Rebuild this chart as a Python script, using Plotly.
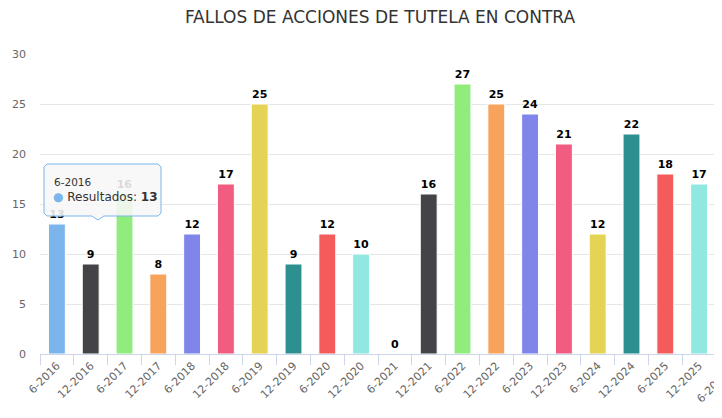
import plotly.graph_objects as go

categories = ["6-2016", "12-2016", "6-2017", "12-2017", "6-2018", "12-2018",
              "6-2019", "12-2019", "6-2020", "12-2020", "6-2021", "12-2021",
              "6-2022", "12-2022", "6-2023", "12-2023", "6-2024", "12-2024",
              "6-2025", "12-2025", "6-2026"]
values = [13, 9, 16, 8, 12, 17, 25, 9, 12, 10, 0, 16, 27, 25, 24, 21, 12, 22, 18, 17, None]
series_name = "Resultados"
title_text = "FALLOS DE ACCIONES DE TUTELA EN CONTRA"
palette = ["#7cb5ec", "#434348", "#90ed7d", "#f7a35c", "#8085e9",
           "#f15c80", "#e4d354", "#2b908f", "#f45b5b", "#91e8e1"]
tooltip_index = 0

OFF = 8  # page margin around the figure
W, H = 722 - OFF, 418 - OFF
ML, MR, MT, MB = 32, 0, 46, 64
PW, PH = W - ML - MR, H - MT - MB
step = 33.8
x_range = [-0.5, -0.5 + PW / step]
y_range = [0, 30]

colors = [palette[i % len(palette)] for i in range(len(values))]
texts = ["" if v is None else str(v) for v in values]

fig = go.Figure(go.Bar(
    x=categories, y=values, width=0.5,
    marker=dict(color=colors, line=dict(color="white", width=1)),
    text=texts, textposition="outside", cliponaxis=False,
    textfont=dict(family="DejaVu Sans", size=11, color="#000000", weight="bold"),
    name=series_name, hoverinfo="skip",
))

def px_x(px):
    return (px - OFF - ML) / PW

def px_y(py):
    return (H - MB - (py - OFF)) / PH

# tooltip anchored on the hovered point (page pixel coordinates)
cx_px = OFF + ML + (tooltip_index - x_range[0]) * step
top_px = OFF + (H - MB) - values[tooltip_index] * PH / (y_range[1] - y_range[0])
tip_x, tip_y = cx_px + 41, top_px - 4
bx0, bx1, by0, by1 = 44, 161, 164, 216
r = 3
pts = [
    (bx0 + r, by0), (bx1 - r, by0), (bx1, by0 + r), (bx1, by1 - r), (bx1 - r, by1),
    (tip_x + 6, by1), (tip_x, tip_y), (tip_x - 6, by1),
    (bx0 + r, by1), (bx0, by1 - r), (bx0, by0 + r),
]
path = "M " + " L ".join(f"{px_x(a):.5f},{px_y(b):.5f}" for a, b in pts) + " Z"

fig.add_shape(type="path", path=path, xref="paper", yref="paper", layer="above",
              fillcolor="rgba(247,247,247,0.88)",
              line=dict(color=colors[tooltip_index], width=1))

fig.add_annotation(xref="paper", yref="paper", x=px_x(52), y=px_y(182),
                   xanchor="left", yanchor="middle", showarrow=False,
                   text=categories[tooltip_index],
                   font=dict(family="DejaVu Sans", size=10.5, color="#333333"))
fig.add_annotation(xref="paper", yref="paper", x=px_x(51), y=px_y(197),
                   xanchor="left", yanchor="middle", showarrow=False,
                   text=f"<span style='color:{colors[tooltip_index]}'>●</span> {series_name}: <b>{values[tooltip_index]}</b>",
                   font=dict(family="DejaVu Sans", size=12, color="#333333"))

# partially visible last category label
fig.add_annotation(xref="paper", yref="paper", x=px_x(712), y=px_y(387),
                   xanchor="center", yanchor="middle", showarrow=False, textangle=-45,
                   text=categories[-1],
                   font=dict(family="DejaVu Sans", size=11, color="#666666"))

fig.update_layout(
    width=W, height=H,
    margin=dict(l=ML, r=MR, t=MT, b=MB, pad=0),
    paper_bgcolor="white", plot_bgcolor="white",
    showlegend=False, bargap=0.5,
    title=dict(text=title_text, x=(380 - OFF) / W, xref="container", xanchor="center",
               y=1 - (17 - OFF) / H, yref="container", yanchor="middle",
               font=dict(family="DejaVu Sans", size=17, color="#333333")),
    font=dict(family="DejaVu Sans"),
    xaxis=dict(type="category", range=x_range, tickson="boundaries",
               ticks="outside", ticklen=10, tickcolor="#ccd6eb", tickwidth=1,
               showline=True, linecolor="#ccd6eb", linewidth=1,
               showgrid=False, tickangle=-45,
               tickfont=dict(family="DejaVu Sans", size=11, color="#666666")),
    yaxis=dict(range=y_range, tickmode="array", tickvals=[0, 5, 10, 15, 20, 25, 30],
               showgrid=True, gridcolor="#e6e6e6", gridwidth=1, zeroline=False,
               ticks="", ticklabelstandoff=13,
               tickfont=dict(family="DejaVu Sans", size=11, color="#666666")),
)

fig.write_html("out.html")
